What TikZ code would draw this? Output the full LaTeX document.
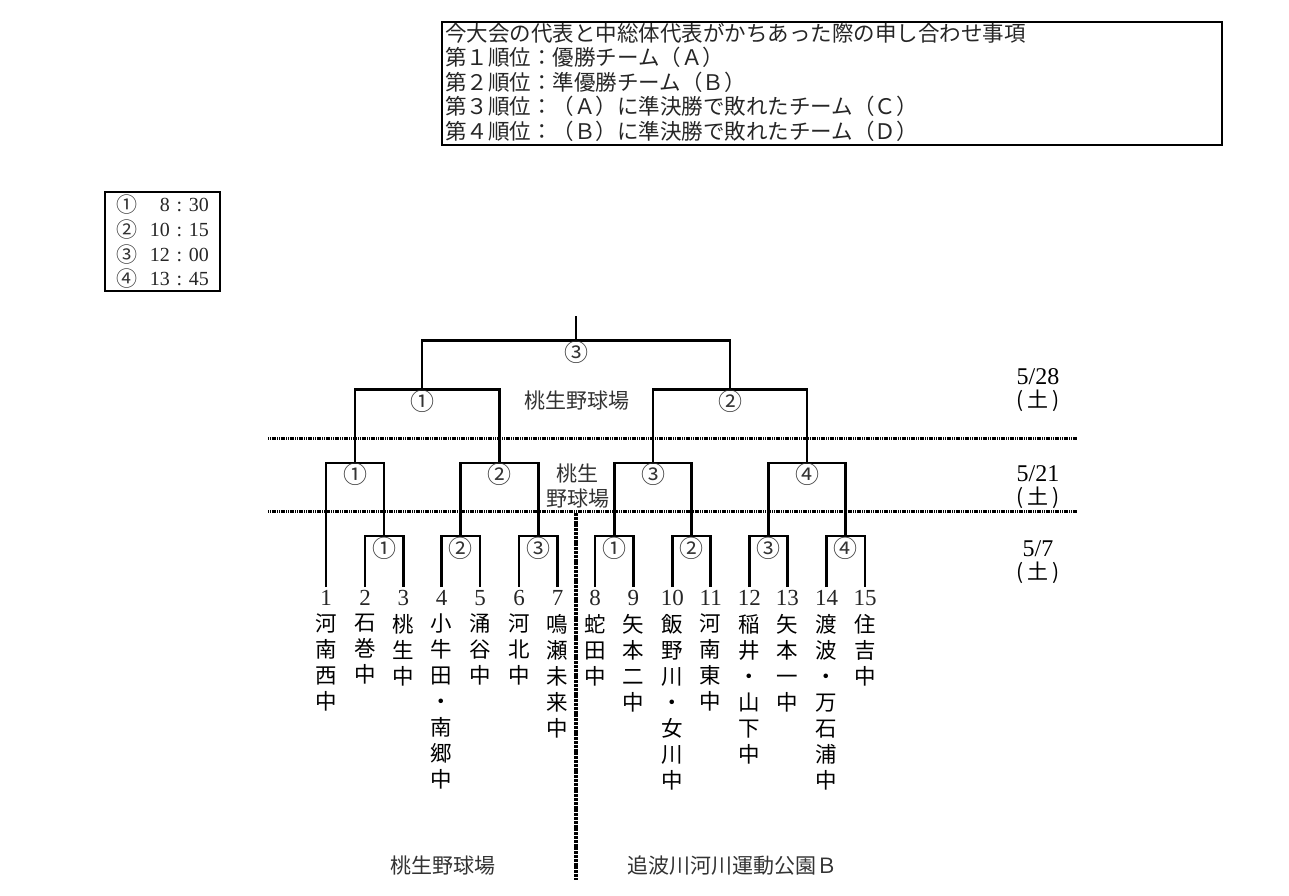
\documentclass[tikz,border=0pt]{standalone}
\usepackage{fontspec}
\setmainfont{Liberation Serif}
\newfontfamily\jp{Noto Sans CJK JP}
\begin{document}
\begin{tikzpicture}[x=1pt,y=-1pt,
  brk/.style={line width=2.9pt,line join=miter},
  frame/.style={line width=2.2pt},
  dotline/.style={line width=3pt,dash pattern=on 1.2pt off 0.6pt},
  vdiv/.style={line width=3.2pt,dash pattern=on 3pt off 0.8pt},
  circ/.style={font=\jp\fontsize{24}{24}\selectfont,inner sep=0pt,text=black!80},
  num/.style={font=\fontsize{23}{23}\selectfont,inner xsep=0pt,inner ysep=2.5pt,anchor=base,text=black!85},
  team/.style={font=\jp\fontsize{21.5}{26}\selectfont,align=center,anchor=north,inner sep=0pt},
  note/.style={font=\jp\fontsize{21.5}{24}\selectfont,anchor=west,inner sep=0pt,text=black!85},
  tm/.style={font=\fontsize{20}{20}\selectfont,inner sep=0pt,text=black!85},
  venue/.style={font=\jp\fontsize{21}{24}\selectfont,inner sep=0pt,text=black!80},
  date/.style={font=\fontsize{24}{24}\selectfont,inner sep=0pt},
  dow/.style={font=\jp\fontsize{21}{21}\selectfont,inner sep=0pt}]
\useasboundingbox (0,0) rectangle (1289,895);

% ---- note box ----
\draw[frame] (442,22) rectangle (1222,145);
\node[note] (l1) at (445,33) {今大会の代表と中総体代表がかちあった際の申し合わせ事項};
\node[note] (l2) at (445,57.5) {第１順位：優勝チーム（Ａ）};
\node[note] (l3) at (445,82) {第２順位：準優勝チーム（Ｂ）};
\node[note] (l4) at (445,106.5) {第３順位：（Ａ）に準決勝で敗れたチーム（Ｃ）};
\node[note] (l5) at (445,131) {第４順位：（Ｂ）に準決勝で敗れたチーム（Ｄ）};

% ---- time box ----
\draw[frame] (105,192) rectangle (220,291);
\node[circ,font=\jp\fontsize{21}{21}\selectfont] (k1) at (127,205) {①};
\node[circ,font=\jp\fontsize{21}{21}\selectfont] (k2) at (127,230) {②};
\node[circ,font=\jp\fontsize{21}{21}\selectfont] (k3) at (127,254.5) {③};
\node[circ,font=\jp\fontsize{21}{21}\selectfont] (k4) at (127,279) {④};
\node[tm,anchor=east] (t1) at (209,205) {8\,\,:\,\,30};
\node[tm,anchor=east] (t2) at (209,230) {10\,\,:\,\,15};
\node[tm,anchor=east] (t3) at (209,254.5) {12\,\,:\,\,00};
\node[tm,anchor=east] (t4) at (209,279) {13\,\,:\,\,45};

% ---- team numbers ----
\foreach \i/\x in {1/326,2/365,3/403.3,4/441.7,5/480,6/519,7/557.7,8/595,9/633.3,10/672.3,11/710.7,12/749.3,13/787.3,14/826.7,15/865}
  \node[num] (n\i) at (\x,605) {\i};

% ---- team names ----
\node[team] (w1) at (326,614) {河\\南\\西\\中};
\node[team] (w2) at (365,614) {石\\巻\\中};
\node[team] (w3) at (403.3,614) {桃\\生\\中};
\node[team] (w4) at (441.7,614) {小\\牛\\田\\・\\南\\郷\\中};
\node[team] (w5) at (480,614) {涌\\谷\\中};
\node[team] (w6) at (519,614) {河\\北\\中};
\node[team] (w7) at (557.7,614) {鳴\\瀬\\未\\来\\中};
\node[team] (w8) at (595,614) {蛇\\田\\中};
\node[team] (w9) at (633.3,614) {矢\\本\\二\\中};
\node[team] (w10) at (672.3,614) {飯\\野\\川\\・\\女\\川\\中};
\node[team] (w11) at (710.7,614) {河\\南\\東\\中};
\node[team] (w12) at (749.3,614) {稲\\井\\・\\山\\下\\中};
\node[team] (w13) at (787.3,614) {矢\\本\\一\\中};
\node[team] (w14) at (826.7,614) {渡\\波\\・\\万\\石\\浦\\中};
\node[team] (w15) at (865,614) {住\\吉\\中};

% ---- junctions ----
\coordinate (m1) at (384,536);
\coordinate (m2) at (460.9,536);
\coordinate (m3) at (538.3,536);
\coordinate (m4) at (614.2,536);
\coordinate (m5) at (691.5,536);
\coordinate (m6) at (768.3,536);
\coordinate (m7) at (845.8,536);
\coordinate (r1) at (355,463);
\coordinate (r2) at (499.5,463);
\coordinate (r3) at (653,463);
\coordinate (r4) at (807,463);
\coordinate (s1) at (422,389.5);
\coordinate (s2) at (730,389.5);
\coordinate (f) at (576,340.5);
\coordinate (top) at (576,316);

% ---- 1st round ----
\draw[brk] (n2.north) |- (m1) -| (n3.north);
\draw[brk] (n4.north) |- (m2) -| (n5.north);
\draw[brk] (n6.north) |- (m3) -| (n7.north);
\draw[brk] (n8.north) |- (m4) -| (n9.north);
\draw[brk] (n10.north) |- (m5) -| (n11.north);
\draw[brk] (n12.north) |- (m6) -| (n13.north);
\draw[brk] (n14.north) |- (m7) -| (n15.north);
% ---- 2nd round ----
\draw[brk] (n1.north) |- (r1) -| (m1);
\draw[brk] (m2) |- (r2) -| (m3);
\draw[brk] (m4) |- (r3) -| (m5);
\draw[brk] (m6) |- (r4) -| (m7);
% ---- semifinals ----
\draw[brk] (r1) |- (s1) -| (r2);
\draw[brk] (r3) |- (s2) -| (r4);
% ---- final ----
\draw[brk] (s1) |- (f) -| (s2);
\draw[brk] (f) -- (top);

% ---- game labels ----
\node[circ] (g1) at (384,548.5) {①};
\node[circ] (g2) at (460.9,548.5) {②};
\node[circ] (g3) at (538.3,548.5) {③};
\node[circ] (g4) at (614.2,548.5) {①};
\node[circ] (g5) at (691.5,548.5) {②};
\node[circ] (g6) at (768.3,548.5) {③};
\node[circ] (g7) at (845.8,548.5) {④};
\node[circ] (h1) at (355,474) {①};
\node[circ] (h2) at (499.5,474) {②};
\node[circ] (h3) at (653,474) {③};
\node[circ] (h4) at (807,474) {④};
\node[circ] (q1) at (422,401) {①};
\node[circ] (q2) at (730,401) {②};
\node[circ] (q3) at (576,352) {③};

% ---- separators ----
\coordinate (d1a) at (268,438); \coordinate (d1b) at (1077,438);
\coordinate (d2a) at (268,511.5); \coordinate (d2b) at (1077,511.5);
\coordinate (va) at (576,513); \coordinate (vb) at (576,880);
\draw[dotline] (d1a) -- (d1b);
\draw[dotline] (d2a) -- (d2b);
\draw[vdiv] (va) -- (vb);

% ---- venues ----
\node[venue] (v1) at (577,401) {桃生野球場};
\node[venue] (v2) at (577,473.5) {桃生};
\node[venue] (v3) at (578,498.5) {野球場};
\node[venue] (v4) at (443,866) {桃生野球場};
\node[venue] (v5) at (732,866) {追波川河川運動公園Ｂ};

% ---- dates ----
\node[date] (e1) at (1038,377) {5/28};
\node[dow] (f1) at (1038,401) {(\,土\,)};
\node[date] (e2) at (1038,474) {5/21};
\node[dow] (f2) at (1038,497.5) {(\,土\,)};
\node[date] (e3) at (1038,549) {5/7};
\node[dow] (f3) at (1038,573) {(\,土\,)};
\end{tikzpicture}
\end{document}
